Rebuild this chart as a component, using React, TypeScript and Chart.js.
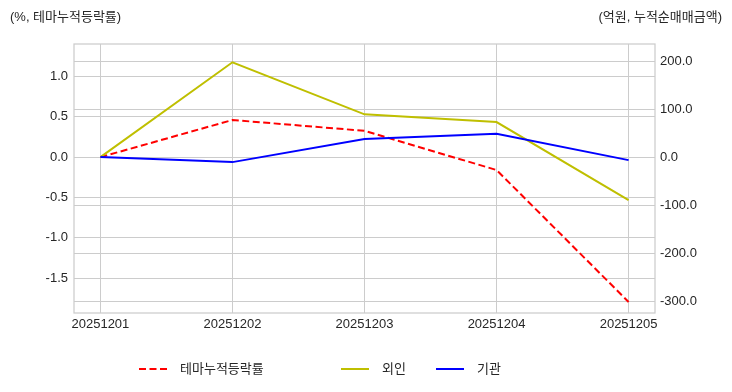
import React, { useEffect, useRef } from "react";
import { Chart, registerables } from "chart.js";

Chart.register(...registerables);

const dates = ["20251201", "20251202", "20251203", "20251204", "20251205"];
const themeReturn = [0.0, 0.46, 0.326, -0.16, -1.795];
const foreign = [0.0, 197.3, 89.0, 72.9, -89.6];
const institution = [0.0, -10.4, 37.5, 48.5, -6.3];
const leftTicks = [-1.5, -1.0, -0.5, 0, 0.5, 1.0];
const rightTicks = [-300, -200, -100, 0, 100, 200];
const seriesNames = ["테마누적등락률", "외인", "기관"];
const leftTitle = "(%, 테마누적등락률)";
const rightTitle = "(억원, 누적순매매금액)";

const FONT = "'Liberation Sans', 'Noto Sans CJK KR', Arial, sans-serif";
const TEXT = "#262626";
const GRID = "#cccccc";
const COLORS = ["#ff0000", "#bfbf00", "#0000ff"];

const decorPlugin = {
  id: "decor",
  afterDatasetsDraw(chart: any) {
    const { ctx, chartArea } = chart;
    ctx.save();
    ctx.strokeStyle = GRID;
    ctx.lineWidth = 1.25;
    ctx.strokeRect(chartArea.left, chartArea.top, chartArea.right - chartArea.left, chartArea.bottom - chartArea.top);
    ctx.restore();
  },
  afterDraw(chart: any) {
    const { ctx, width } = chart;
    ctx.save();
    ctx.font = `13px ${FONT}`;
    ctx.fillStyle = TEXT;
    ctx.textBaseline = "middle";
    ctx.textAlign = "left";
    ctx.fillText(leftTitle, 10, 17);
    ctx.textAlign = "right";
    ctx.fillText(rightTitle, width - 10, 17);

    // legend
    const handleX = [139, 341, 436];
    const handleLen = 28;
    const ly = 369;
    chart.data.datasets.forEach((ds: any, i: number) => {
      const x0 = handleX[i];
      ctx.beginPath();
      ctx.strokeStyle = ds.borderColor;
      ctx.lineWidth = ds.borderWidth;
      ctx.setLineDash(ds.borderDash || []);
      ctx.moveTo(x0, ly);
      ctx.lineTo(x0 + handleLen, ly);
      ctx.stroke();
      ctx.setLineDash([]);
      ctx.fillStyle = TEXT;
      ctx.textAlign = "left";
      ctx.fillText(ds.label, x0 + handleLen + 13, ly);
    });
    ctx.restore();
  },
};

export default function App() {
  const ref = useRef<HTMLCanvasElement | null>(null);
  useEffect(() => {
    if (!ref.current) return;
    const toPts = (arr: number[]) => arr.map((v, i) => ({ x: i, y: v }));
    const chart = new Chart(ref.current, {
      type: "line",
      data: {
        datasets: [
          {
            label: seriesNames[0],
            data: toPts(themeReturn),
            borderColor: COLORS[0],
            borderWidth: 2,
            borderDash: [7, 3.5],
            yAxisID: "y",
            pointRadius: 0,
            tension: 0,
            order: 2,
          },
          {
            label: seriesNames[1],
            data: toPts(foreign),
            borderColor: COLORS[1],
            borderWidth: 2,
            yAxisID: "y1",
            pointRadius: 0,
            tension: 0,
            order: 1,
          },
          {
            label: seriesNames[2],
            data: toPts(institution),
            borderColor: COLORS[2],
            borderWidth: 2,
            yAxisID: "y1",
            pointRadius: 0,
            tension: 0,
            order: 0,
          },
        ],
      },
      options: {
        responsive: false,
        animation: false,
        layout: { padding: { top: 44, left: 0, right: 0, bottom: 0 } },
        plugins: { legend: { display: false }, tooltip: { enabled: false }, title: { display: false } },
        scales: {
          x: {
            type: "linear",
            min: -0.2,
            max: 4.2,
            border: { display: false },
            grid: { color: GRID, lineWidth: 1, drawTicks: false },
            afterBuildTicks: (s: any) => {
              s.ticks = dates.map((_, i) => ({ value: i }));
            },
            afterFit: (s: any) => {
              s.height = 79;
            },
            ticks: {
              color: TEXT,
              font: { family: FONT, size: 13 },
              padding: 4,
              maxRotation: 0,
              autoSkip: false,
              callback: (v: any) => dates[Math.round(Number(v))] ?? "",
            },
          },
          y: {
            type: "linear",
            position: "left",
            min: -1.932,
            max: 1.402,
            border: { display: false },
            grid: { color: GRID, lineWidth: 1, drawTicks: false },
            afterBuildTicks: (s: any) => {
              s.ticks = leftTicks.map((v) => ({ value: v }));
            },
            afterFit: (s: any) => {
              s.width = 74;
            },
            ticks: {
              color: TEXT,
              font: { family: FONT, size: 13 },
              padding: 6,
              callback: (v: any) => Number(v).toFixed(1),
            },
          },
          y1: {
            type: "linear",
            position: "right",
            min: -324.4,
            max: 235.4,
            border: { display: false },
            grid: { color: GRID, lineWidth: 1, drawTicks: false },
            afterBuildTicks: (s: any) => {
              s.ticks = rightTicks.map((v) => ({ value: v }));
            },
            afterFit: (s: any) => {
              s.width = 77;
            },
            ticks: {
              color: TEXT,
              font: { family: FONT, size: 13 },
              padding: 5,
              callback: (v: any) => Number(v).toFixed(1),
            },
          },
        },
      } as any,
      plugins: [decorPlugin],
    });
    return () => chart.destroy();
  }, []);

  return (
    <div style={{ position: "fixed", left: 0, top: 0, width: 732, height: 392, background: "#ffffff" }}>
      <canvas ref={ref} width={732} height={392} style={{ display: "block" }} />
    </div>
  );
}
